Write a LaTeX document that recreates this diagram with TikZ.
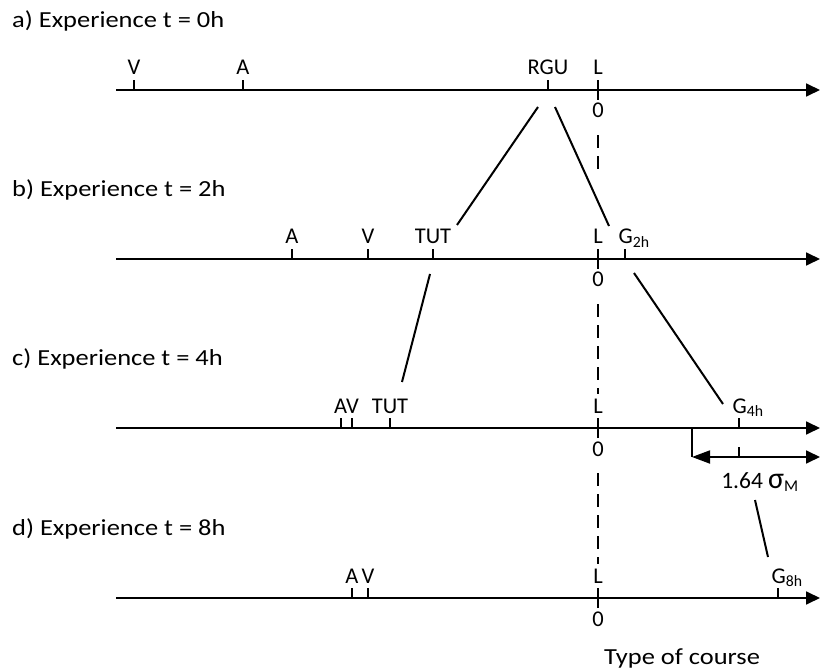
\documentclass[tikz,border=0pt]{standalone}
\usepackage{fontspec}
\setmainfont{Carlito}
\newfontfamily\headfont[FakeStretch=1.15]{Carlito}
\usetikzlibrary{arrows.meta}

\begin{document}
\begin{tikzpicture}[x=1pt, y=-1pt,
    axis/.style={line width=1.8pt, -{Triangle[length=14pt,width=13pt]}},
    tick/.style={line width=1.3pt},
    lbl/.style={anchor=base, yshift=5pt, inner sep=0pt, font=\fontsize{22.5}{26}\selectfont},
    glbl/.style={lbl, anchor=base west, xshift=-7pt},
    zero/.style={anchor=base, yshift=-18pt, inner sep=1pt, font=\fontsize{22.5}{26}\selectfont},
    head/.style={anchor=base west, inner sep=0pt, font=\headfont\fontsize{23}{28}\selectfont},
    link/.style={line width=2pt},
    guide/.style={line width=1.8pt, dash pattern=on 13pt off 8pt, shorten <=16pt}]
    \useasboundingbox (0,0) rectangle (820,671);
    % axes
    \coordinate (A1) at (116,90);  \coordinate (A2) at (820,90);
    \coordinate (B1) at (116,259); \coordinate (B2) at (820,259);
    \coordinate (C1) at (116,428); \coordinate (C2) at (820,428);
    \coordinate (D1) at (116,598); \coordinate (D2) at (820,598);
    \draw[axis] (A1) -- (A2);
    \draw[axis] (B1) -- (B2);
    \draw[axis] (C1) -- (C2);
    \draw[axis] (D1) -- (D2);
    \node[head] (ha) at (12,28)  {a) Experience t = 0h};
    \node[head] (hb) at (12,197) {b) Experience t = 2h};
    \node[head] (hc) at (12,366) {c) Experience t = 4h};
    \node[head] (hd) at (12,535) {d) Experience t = 8h};
    % a) t = 0h
    \draw[tick] (134,90) -- ++(0,-10) node[lbl] (aV) {V};
    \draw[tick] (243,90) -- ++(0,-10) node[lbl] (aA) {A};
    \draw[tick] (548,90) -- ++(0,-10) node[lbl] (aR) {RGU};
    \draw[tick] (598,100) -- ++(0,-20) node[lbl] (aL) {L};
    \node[zero] (a0) at (598,100) {0};
    % b) t = 2h
    \draw[tick] (292,259) -- ++(0,-10) node[lbl] (bA) {A};
    \draw[tick] (368,259) -- ++(0,-10) node[lbl] (bV) {V};
    \draw[tick] (433,259) -- ++(0,-10) node[lbl] (bT) {TUT};
    \draw[tick] (598,269) -- ++(0,-20) node[lbl] (bL) {L};
    \draw[tick] (625,259) -- ++(0,-10) node[glbl] (bG) {G\textsubscript{2h}};
    \node[zero] (b0) at (598,269) {0};
    % c) t = 4h
    \draw[tick] (341,428) -- ++(0,-10);
    \draw[tick] (352,428) -- ++(0,-10);
    \node[lbl] (cAV) at (346.5,418) {AV};
    \draw[tick] (390,428) -- ++(0,-10) node[lbl] (cT) {TUT};
    \draw[tick] (598,438) -- ++(0,-20) node[lbl] (cL) {L};
    \draw[tick] (739,428) -- ++(0,-10) node[glbl] (cG) {G\textsubscript{4h}};
    \node[zero] (c0) at (598,438) {0};
    % spread 1.64 sigma
    \draw[tick] (692,428) -- (692,457);
    \draw[tick] (739,447) -- (739,457);
    \draw[line width=1.8pt, {Triangle[length=18pt,width=13pt]}-{Triangle[length=14pt,width=13pt]}] (692,457) -- (820,457);
    \node[lbl, yshift=-5pt, font=\fontsize{23.5}{28}\selectfont] (sig) at (760,488) {1.64 {\fontsize{30}{30}\selectfont σ}\textsubscript{M}};
    % d) t = 8h
    \draw[tick] (352,598) -- ++(0,-10) node[lbl] (dA) {A};
    \draw[tick] (368,598) -- ++(0,-10) node[lbl] (dV) {V};
    \draw[tick] (598,608) -- ++(0,-20) node[lbl] (dL) {L};
    \draw[tick] (778,598) -- ++(0,-10) node[glbl] (dG) {G\textsubscript{8h}};
    \node[zero] (d0) at (598,608) {0};
    \node[head] (course) at (604,664) {Type of course};
    % course 0 carried down
    \coordinate (aEnd) at (598,172);
    \draw[guide] (a0) -- (aEnd);
    \draw[guide, shorten >=4pt] (b0) -- (cL);
    \draw[guide, shorten >=4pt] (c0) -- (dL);
    % links between the rows
    \coordinate (P1) at (538,107); \coordinate (P2) at (457,225);
    \coordinate (Q1) at (555,107); \coordinate (Q2) at (609,226);
    \coordinate (R1) at (430,274); \coordinate (R2) at (402,382);
    \coordinate (S1) at (634,273); \coordinate (S2) at (723,404);
    \coordinate (T1) at (755,500); \coordinate (T2) at (768,557);
    \draw[link] (P1) -- (P2);
    \draw[link] (Q1) -- (Q2);
    \draw[link] (R1) -- (R2);
    \draw[link] (S1) -- (S2);
    \draw[link] (T1) -- (T2);
\end{tikzpicture}
\end{document}
